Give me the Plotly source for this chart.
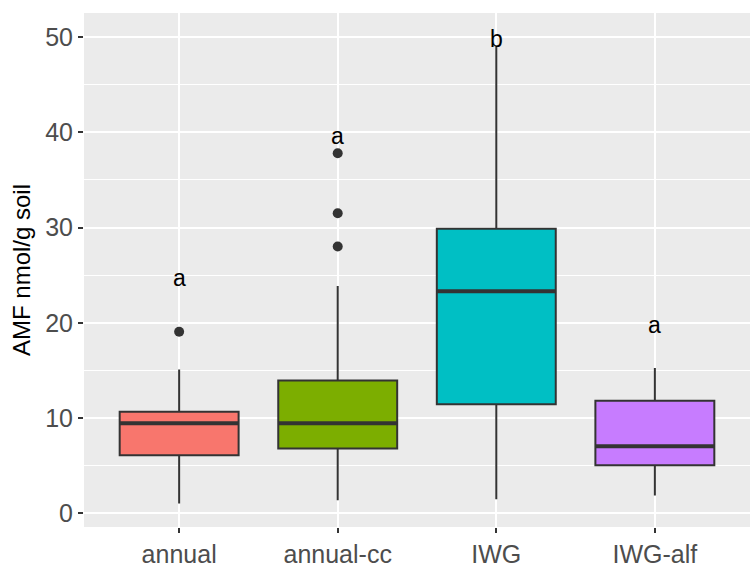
import plotly.graph_objects as go

categories = ["annual", "annual-cc", "IWG", "IWG-alf"]
colors = ["#F8766D", "#7CAE00", "#00BFC4", "#C77CFF"]
q1 = [6.1, 6.8, 11.44, 5.05]
median = [9.46, 9.46, 23.3, 7.04]
q3 = [10.65, 13.95, 29.88, 11.81]
lower_whisker = [1.02, 1.37, 1.48, 1.86]
upper_whisker = [15.1, 23.86, 48.95, 15.26]
outliers = [[19.06], [37.8, 31.5, 28.0], [], []]
letters = ["a", "a", "b", "a"]
letter_y = [24.7, 39.65, 49.8, 19.78]

BOX_W = 0.75
LINE = "#333333"
FONT = "Liberation Sans, Arial, Helvetica, sans-serif"

fig = go.Figure()
for i, cat in enumerate(categories):
    fig.add_trace(go.Box(
        x=[i], q1=[q1[i]], median=[median[i]], q3=[q3[i]],
        lowerfence=[lower_whisker[i]], upperfence=[upper_whisker[i]],
        width=BOX_W, fillcolor=colors[i], line=dict(color=LINE, width=2),
        whiskerwidth=0, boxpoints=False, name=cat, showlegend=False,
        hoverinfo="skip",
    ))
    fig.add_trace(go.Scatter(
        x=[i - BOX_W / 2, i + BOX_W / 2], y=[median[i], median[i]],
        mode="lines", line=dict(color=LINE, width=4), showlegend=False,
        hoverinfo="skip",
    ))
    if outliers[i]:
        fig.add_trace(go.Scatter(
            x=[i] * len(outliers[i]), y=outliers[i], mode="markers",
            marker=dict(color=LINE, size=10), showlegend=False,
        ))
    fig.add_annotation(x=i, y=letter_y[i], text=letters[i], showarrow=False,
                       xanchor="center", yanchor="middle",
                       font=dict(family=FONT, size=23, color="black"))

fig.update_layout(
    width=750, height=571,
    margin=dict(l=84, r=0, t=13, b=44, autoexpand=False),
    paper_bgcolor="white", plot_bgcolor="#EBEBEB",
    boxmode="overlay",
    font=dict(family=FONT),
)
fig.update_xaxes(
    range=[-0.6, 3.6], tickmode="array", tickvals=list(range(len(categories))),
    ticktext=categories, showgrid=True, gridcolor="white", gridwidth=2,
    zeroline=False, showline=False, ticks="outside", ticklen=5, tickwidth=2,
    tickcolor=LINE, tickfont=dict(size=25, color="#4D4D4D", family=FONT),
)
fig.update_yaxes(
    range=[-1.44, 52.52], tickmode="array", tickvals=[0, 10, 20, 30, 40, 50],
    showgrid=True, gridcolor="white", gridwidth=2,
    minor=dict(tickmode="array", tickvals=[5, 15, 25, 35, 45], showgrid=True,
               gridcolor="white", gridwidth=1, ticks=""),
    zeroline=False, showline=False, ticks="outside", ticklen=5, tickwidth=2,
    tickcolor=LINE, tickfont=dict(size=25, color="#4D4D4D", family=FONT),
    title=dict(text="AMF nmol/g soil", font=dict(size=24, color="black", family=FONT),
               standoff=7),
)

fig.write_html("out.html")
